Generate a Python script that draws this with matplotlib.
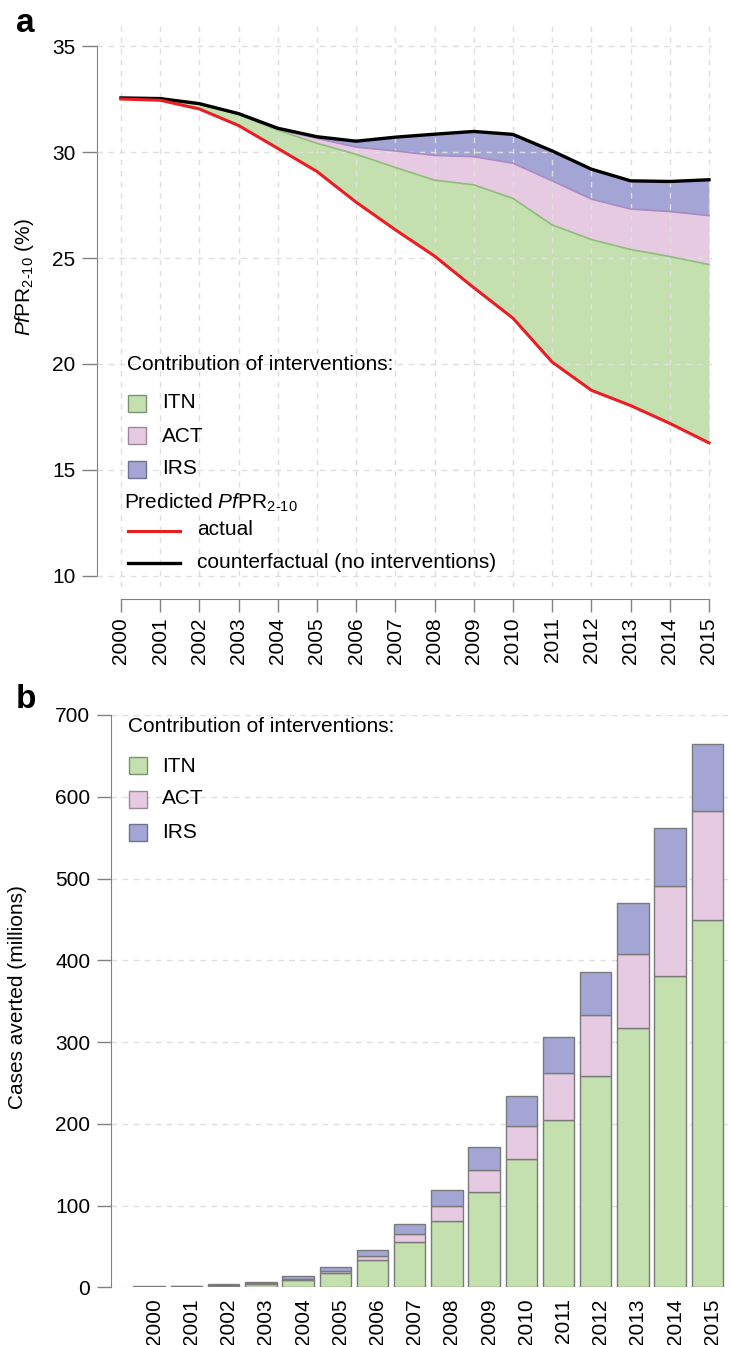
import numpy as np
import matplotlib
matplotlib.use("Agg")
import matplotlib.pyplot as plt
from matplotlib.patches import Rectangle
from matplotlib.lines import Line2D
from matplotlib.transforms import ScaledTranslation

plt.rcParams['font.family'] = 'Liberation Sans'
plt.rcParams['mathtext.fontset'] = 'custom'
plt.rcParams['mathtext.rm'] = 'Liberation Sans'
plt.rcParams['mathtext.it'] = 'Liberation Sans:italic'

# data
years = np.arange(2000, 2016)

# panel a: PfPR2-10 (%) boundaries of the stacked areas
pfpr_actual = [32.50, 32.44, 32.03, 31.25, 30.17, 29.08, 27.63, 26.33,
               25.09, 23.60, 22.16, 20.09, 18.76, 18.04, 17.20, 16.28]
pfpr_itn_top = [32.54, 32.50, 32.25, 31.78, 31.03, 30.41, 29.89, 29.27,
                28.67, 28.45, 27.81, 26.56, 25.87, 25.40, 25.07, 24.69]
pfpr_act_top = [32.55, 32.51, 32.27, 31.80, 31.07, 30.64, 30.23, 30.05,
                29.84, 29.78, 29.47, 28.64, 27.78, 27.31, 27.19, 27.00]
pfpr_counterfactual = [32.55, 32.52, 32.28, 31.81, 31.12, 30.72, 30.51, 30.70,
                       30.84, 30.97, 30.83, 30.05, 29.19, 28.64, 28.61, 28.69]

# panel b: cases averted (millions)
cases_itn = [0.5, 0.7, 1.6, 3.7, 8.6, 17.5, 33.4, 55.4,
             81.5, 116, 157, 205, 259, 317, 381, 449]
cases_act = [0.3, 0.4, 0.8, 1.2, 1.6, 2.5, 4.9, 9.8,
             17.5, 27, 40, 57, 74, 91, 110, 134]
cases_irs = [0.4, 0.5, 1.3, 2.0, 3.7, 4.9, 7.3, 11.8,
             19.6, 28, 36.5, 44.4, 52.8, 62, 71, 81]

green = '#c3e0ae'
pink = '#e6cae2'
purple = '#a3a6d4'
green_edge = '#8dbd78'
pink_edge = '#ad88c4'
grid_col = '#dedede'
spine_col = '#808080'

W, H = 731, 1345
fig = plt.figure(figsize=(W / 100, H / 100), dpi=100)


def box(l, t, r, b):
    return [l / W, 1 - b / H, (r - l) / W, (b - t) / H]


def fx(x):
    return x / W


def fy(y):
    return 1 - y / H


fs = 15

# ---------------- panel a ----------------
ax1 = fig.add_axes(box(97, 23, 712, 587))
ax1.fill_between(years, pfpr_actual, pfpr_itn_top, color=green, lw=0, zorder=1)
ax1.fill_between(years, pfpr_itn_top, pfpr_act_top, color=pink, lw=0, zorder=1)
ax1.fill_between(years, pfpr_act_top, pfpr_counterfactual, color=purple, lw=0, zorder=1)
ax1.plot(years, pfpr_itn_top, color=green_edge, lw=1.2, zorder=3)
ax1.plot(years, pfpr_act_top, color=pink_edge, lw=1.2, zorder=3)
ax1.plot(years, pfpr_counterfactual, color='black', lw=2.4, zorder=4)
ax1.plot(years, pfpr_actual, color='#ec1c24', lw=2.2, zorder=4)

ax1.set_xlim(1999.388, 2015.077)
ax1.set_ylim(9.481, 36.085)
ax1.set_xticks(years)
ax1.set_xticklabels([str(y) for y in years])
ax1.set_yticks([10, 15, 20, 25, 30, 35])
ax1.set_axisbelow(False)
ax1.grid(True, color=grid_col, ls=(0, (4, 4)), lw=1)
for s in ['top', 'right']:
    ax1.spines[s].set_visible(False)
ax1.spines['left'].set_bounds(10, 35)
ax1.spines['bottom'].set_bounds(2000, 2015)
ax1.spines['bottom'].set_position(('outward', 8.6))
for s in ['left', 'bottom']:
    ax1.spines[s].set_color(spine_col)
ax1.tick_params(axis='y', length=10.5, width=1, color=spine_col, pad=5, labelsize=fs)
ax1.tick_params(axis='x', length=9.4, width=1, color=spine_col, pad=3.6, labelsize=fs,
                labelrotation=90)

fig.text(fx(25), fy(277), r'$\mathit{Pf}\mathrm{PR}_{2\text{-}10}$ (%)', rotation=90,
         ha='center', va='center', fontsize=fs)
fig.text(fx(16), fy(24), 'a', fontsize=24, fontweight='bold', ha='left', va='center')

# legend a
fig.text(fx(127), fy(364), 'Contribution of interventions:', fontsize=fs, va='center')
for label, col, ec, yc in [('ITN', green, '#7f8f73', 403), ('ACT', pink, '#9a8a99', 436),
                           ('IRS', purple, '#6f7192', 469)]:
    fig.patches.append(Rectangle((fx(128), fy(yc + 8.5)), 17.5 / W, 17 / H,
                                 transform=fig.transFigure, facecolor=col,
                                 edgecolor=ec, lw=1))
    fig.text(fx(162), fy(yc), label, fontsize=fs, va='center')
fig.text(fx(124), fy(503), r'Predicted $\mathit{Pf}\mathrm{PR}_{2\text{-}10}$', fontsize=fs, va='center')
fig.lines.append(Line2D([fx(128), fx(180)], [fy(531), fy(531)], transform=fig.transFigure,
                        color='#ec1c24', lw=2.2))
fig.text(fx(197), fy(530), 'actual', fontsize=fs, va='center')
fig.lines.append(Line2D([fx(128), fx(180)], [fy(563), fy(563)], transform=fig.transFigure,
                        color='black', lw=2.4))
fig.text(fx(197), fy(562), 'counterfactual (no interventions)', fontsize=fs, va='center')

# ---------------- panel b ----------------
ax2 = fig.add_axes(box(111, 715, 730, 1287.3))
bw = 0.845
bar_ec = '#7a7a7a'
ax2.bar(years, cases_itn, width=bw, color=green, edgecolor=bar_ec, lw=1)
bottom2 = np.array(cases_itn)
ax2.bar(years, cases_act, width=bw, bottom=bottom2, color=pink, edgecolor=bar_ec, lw=1)
bottom3 = bottom2 + np.array(cases_act)
ax2.bar(years, cases_irs, width=bw, bottom=bottom3, color=purple, edgecolor=bar_ec, lw=1)

ax2.set_xlim(1998.973, 2015.61)
ax2.set_ylim(0, 700)
ax2.set_yticks(np.arange(0, 701, 100))
ax2.set_xticks(years)
ax2.set_xticklabels([str(y) for y in years])
ax2.set_axisbelow(True)
ax2.yaxis.grid(True, color=grid_col, ls=(0, (4, 4)), lw=1)
for s in ['top', 'right', 'bottom']:
    ax2.spines[s].set_visible(False)
ax2.spines['left'].set_color(spine_col)
ax2.tick_params(axis='y', length=10, width=1, color=spine_col, pad=5, labelsize=fs)
ax2.tick_params(axis='x', length=0, pad=8, labelsize=fs, labelrotation=90)
for lab in ax2.get_xticklabels():
    lab.set_transform(lab.get_transform() + ScaledTranslation(5 / 100, 0, fig.dpi_scale_trans))

fig.text(fx(18), fy(997), 'Cases averted (millions)', rotation=90,
         ha='center', va='center', fontsize=fs)
fig.text(fx(16), fy(699), 'b', fontsize=24, fontweight='bold', ha='left', va='center')

# legend b
fig.text(fx(128), fy(727), 'Contribution of interventions:', fontsize=fs, va='center')
for label, col, ec, yc in [('ITN', green, '#7f8f73', 766), ('ACT', pink, '#9a8a99', 799),
                           ('IRS', purple, '#6f7192', 832)]:
    fig.patches.append(Rectangle((fx(129), fy(yc + 8.5)), 17.5 / W, 17 / H,
                                 transform=fig.transFigure, facecolor=col,
                                 edgecolor=ec, lw=1))
    fig.text(fx(162), fy(yc), label, fontsize=fs, va='center')

fig.savefig('out.png', dpi=100, facecolor='white')
